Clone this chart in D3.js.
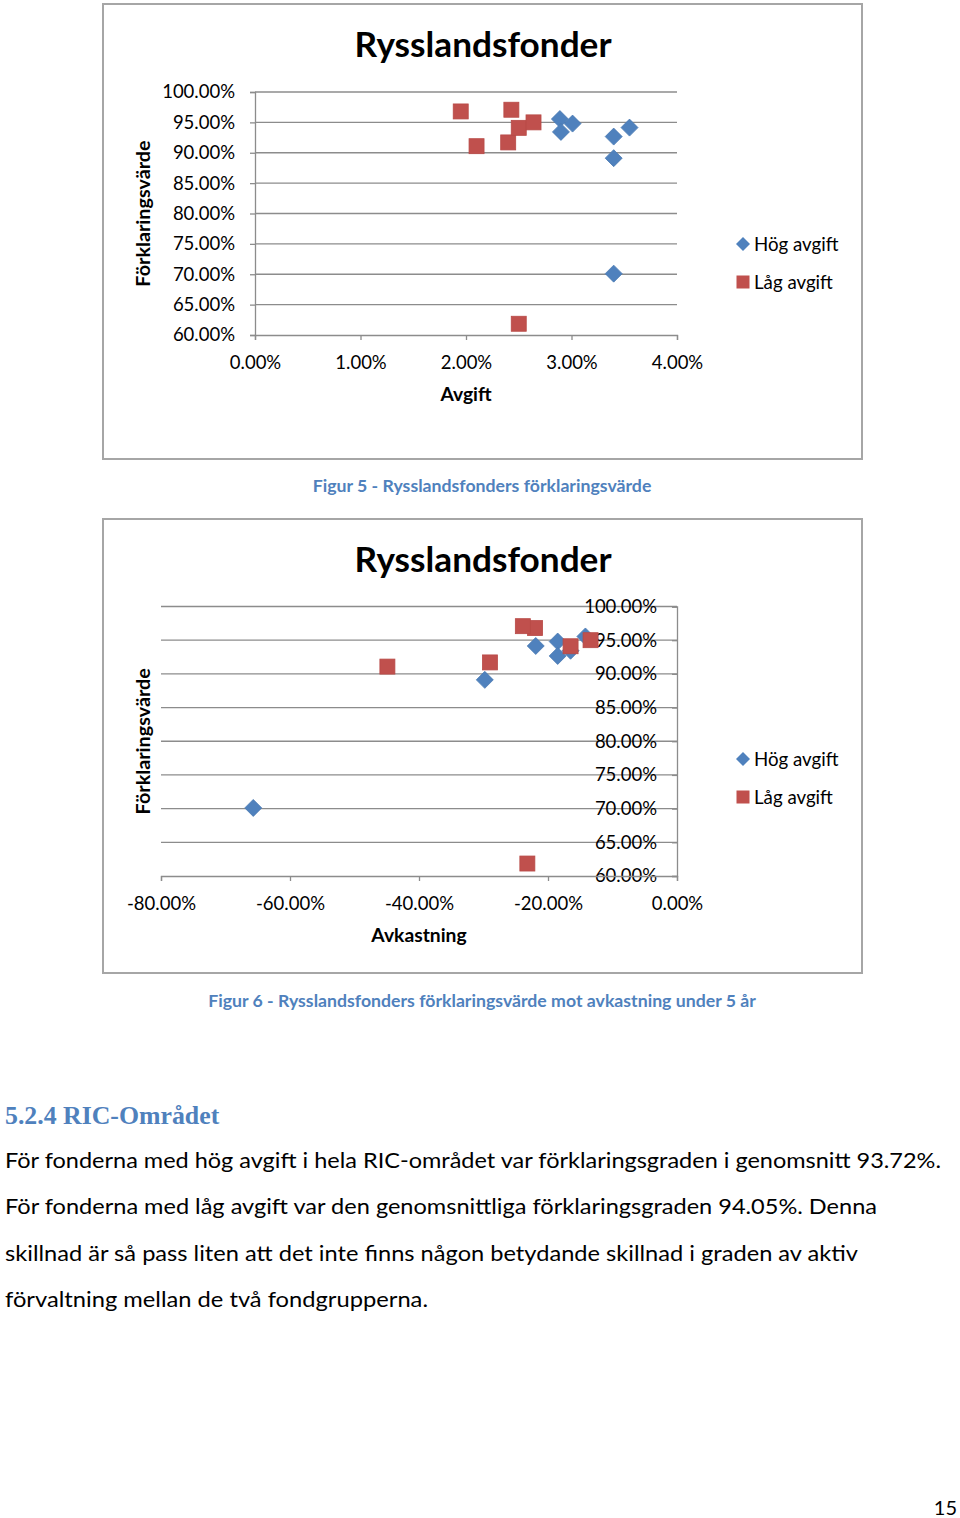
<!DOCTYPE html>
<html><head><meta charset="utf-8">
<script src="https://cdn.jsdelivr.net/npm/d3@7"></script>
<style>
html,body{margin:0;padding:0;background:#fff;}
svg{display:block;}
</style>
</head><body>
<svg id="page" width="960" height="1518"></svg>
<script>
// ---- Data ----
const chartTitle = "Rysslandsfonder";
const seriesNames = ["Hög avgift", "Låg avgift"];
// Hög avgift (blue diamonds)
const hogForklaring = [95.55, 94.8, 93.43, 92.66, 94.14, 89.11, 70.1];
const hogAvgift     = [2.89, 3.01, 2.90, 3.40, 3.55, 3.40, 3.40];
const hogAvkastning = [-14.2, -18.5, -16.5, -18.5, -21.9, -29.8, -65.7];
// Låg avgift (red squares)
const lagForklaring = [96.8, 97.08, 91.08, 91.7, 94.1, 95.0, 61.85];
const lagAvgift     = [1.95, 2.43, 2.10, 2.40, 2.50, 2.64, 2.50];
const lagAvkastning = [-22.0, -23.9, -44.9, -29.0, -16.5, -13.4, -23.2];
// Axis ticks
const yTicks = [60, 65, 70, 75, 80, 85, 90, 95, 100];
const xTicksAvgift = [0, 1, 2, 3, 4];
const xTicksAvkastning = [-80, -60, -40, -20, 0];

const captions = ["Figur 5 - Rysslandsfonders förklaringsvärde",
                  "Figur 6 - Rysslandsfonders förklaringsvärde mot avkastning under 5 år"];
const heading = "5.2.4 RIC-Området";
const bodyLines = [
  "För fonderna med hög avgift i hela RIC-området var förklaringsgraden i genomsnitt 93.72%.",
  "För fonderna med låg avgift var den genomsnittliga förklaringsgraden 94.05%. Denna",
  "skillnad är så pass liten att det inte finns någon betydande skillnad i graden av aktiv",
  "förvaltning mellan de två fondgrupperna."
];
const pageNumber = "15";

// ---- Styles ----
const FONT = "Lato, 'Open Sans', sans-serif";
const BLUE = "#4f81bd", RED = "#c0504d", GRID = "#8c8c8c", CAP = "#4f81bd";
const svg = d3.select("#page");
const fmt = d => d.toFixed(2) + "%";

function drawChart(cfg) {
  const g = svg.append("g");
  g.append("rect").attr("x", cfg.box[0]).attr("y", cfg.box[1])
    .attr("width", cfg.box[2]).attr("height", cfg.box[3])
    .attr("fill", "#fff").attr("stroke", "#a6a6a6").attr("stroke-width", 2);
  const x = d3.scaleLinear().domain(cfg.xDomain).range([cfg.plot.x0, cfg.plot.x1]);
  const y = d3.scaleLinear().domain([60, 100]).range([cfg.plot.y1, cfg.plot.y0]);

  // title
  g.append("text").attr("x", 483).attr("y", cfg.plot.y0 - 35)
    .attr("text-anchor", "middle").attr("font-family", FONT).attr("font-weight", "bold")
    .attr("font-size", 35.2).attr("fill", "#000").text(chartTitle);

  // gridlines
  g.append("g").selectAll("line").data(yTicks.slice(1)).join("line")
    .attr("x1", cfg.plot.x0).attr("x2", cfg.plot.x1)
    .attr("y1", d => y(d)).attr("y2", d => y(d))
    .attr("stroke", GRID).attr("stroke-width", 1.3);

  // y axis at position cfg.yAxisAt (x value)
  const yAxisX = x(cfg.yAxisAt);
  const yAxis = d3.axisLeft(y).tickValues(yTicks).tickFormat(fmt).tickSize(5).tickPadding(15);
  const ya = g.append("g").attr("transform", `translate(${yAxisX},0)`).call(yAxis);
  ya.select(".domain").attr("stroke", GRID).attr("stroke-width", 1.3);
  ya.selectAll(".tick line").attr("stroke", GRID).attr("stroke-width", 1.3);
  ya.selectAll(".tick text").attr("font-family", FONT).attr("font-size", 18.5).attr("fill", "#000");

  // x axis
  const xAxis = d3.axisBottom(x).tickValues(cfg.xTicks).tickFormat(fmt).tickSize(5).tickPadding(16);
  const xa = g.append("g").attr("transform", `translate(0,${cfg.plot.y1})`).call(xAxis);
  xa.select(".domain").attr("stroke", GRID).attr("stroke-width", 1.3);
  xa.selectAll(".tick line").attr("stroke", GRID).attr("stroke-width", 1.3);
  xa.selectAll(".tick text").attr("font-family", FONT).attr("font-size", 18.5).attr("fill", "#000");

  // axis titles
  g.append("text").attr("x", (cfg.plot.x0 + cfg.plot.x1) / 2).attr("y", cfg.plot.y1 + 66)
    .attr("text-anchor", "middle").attr("font-family", FONT).attr("font-weight", "bold")
    .attr("font-size", 19.3).text(cfg.xTitle);
  g.append("text").attr("transform", `translate(150,${(cfg.plot.y0 + cfg.plot.y1) / 2}) rotate(-90)`)
    .attr("text-anchor", "middle").attr("font-family", FONT).attr("font-weight", "bold")
    .attr("font-size", 19.8).text("Förklaringsvärde");

  // points
  const blue = cfg.blueX.map((v, i) => [v, hogForklaring[i]]);
  const red = cfg.redX.map((v, i) => [v, lagForklaring[i]]);
  g.append("g").selectAll("path").data(blue).join("path")
    .attr("d", "M0,-8.5L8.5,0L0,8.5L-8.5,0Z")
    .attr("transform", d => `translate(${x(d[0])},${y(d[1])})`)
    .attr("fill", BLUE).attr("stroke", "#4a7ab3").attr("stroke-width", 0.8);
  g.append("g").selectAll("rect").data(red).join("rect")
    .attr("x", d => x(d[0]) - 7.5).attr("y", d => y(d[1]) - 7.5)
    .attr("width", 15).attr("height", 15)
    .attr("fill", RED).attr("stroke", "#b84a47").attr("stroke-width", 0.8);

  // legend
  const ly = cfg.legendY;
  const lg = g.append("g");
  lg.append("path").attr("d", "M0,-7L7,0L0,7L-7,0Z").attr("transform", `translate(743,${ly})`).attr("fill", BLUE);
  lg.append("rect").attr("x", 736.5).attr("y", ly + 38 - 6.5).attr("width", 13).attr("height", 13).attr("fill", RED);
  lg.append("text").attr("x", 754).attr("y", ly).attr("dy", "0.35em")
    .attr("font-family", FONT).attr("font-size", 18.7).text(seriesNames[0]);
  lg.append("text").attr("x", 754).attr("y", ly + 38).attr("dy", "0.35em")
    .attr("font-family", FONT).attr("font-size", 18.7).text(seriesNames[1]);
}

drawChart({
  box: [103, 4, 759, 455],
  plot: { x0: 255, x1: 677, y0: 92, y1: 335 },
  xDomain: [0, 4], xTicks: xTicksAvgift, yAxisAt: 0, xTitle: "Avgift",
  blueX: hogAvgift, redX: lagAvgift, legendY: 244
});
drawChart({
  box: [103, 519, 759, 454],
  plot: { x0: 161, x1: 677, y0: 606.5, y1: 876 },
  xDomain: [-80, 0], xTicks: xTicksAvkastning, yAxisAt: 0, xTitle: "Avkastning",
  blueX: hogAvkastning, redX: lagAvkastning, legendY: 759
});

// captions
[[486, captions[0]], [1001, captions[1]]].forEach(([yy, t]) => {
  svg.append("text").attr("x", 482).attr("y", yy).attr("dy", "0.35em").attr("text-anchor", "middle")
    .attr("font-family", FONT).attr("font-weight", "bold").attr("font-size", 17.7)
    .attr("fill", CAP).text(t);
});

// heading
svg.append("text").attr("x", 5).attr("y", 1115).attr("dy", "0.35em")
  .attr("font-family", "'Liberation Serif', 'DejaVu Serif', serif").attr("font-weight", "bold")
  .attr("font-size", 25.8).attr("fill", CAP).text(heading);

// body
const lineW = [936, 872, 853, 423];
bodyLines.forEach((t, i) => {
  svg.append("text").attr("x", 5).attr("y", 1160 + i * 46.5).attr("dy", "0.35em")
    .attr("font-family", FONT).attr("font-size", 22).attr("fill", "#000")
    .attr("textLength", lineW[i]).attr("lengthAdjust", "spacingAndGlyphs").text(t);
});

svg.append("text").attr("x", 957).attr("y", 1508).attr("dy", "0.35em").attr("text-anchor", "end")
  .attr("font-family", FONT).attr("font-size", 20).text(pageNumber);
</script>
</body></html>
